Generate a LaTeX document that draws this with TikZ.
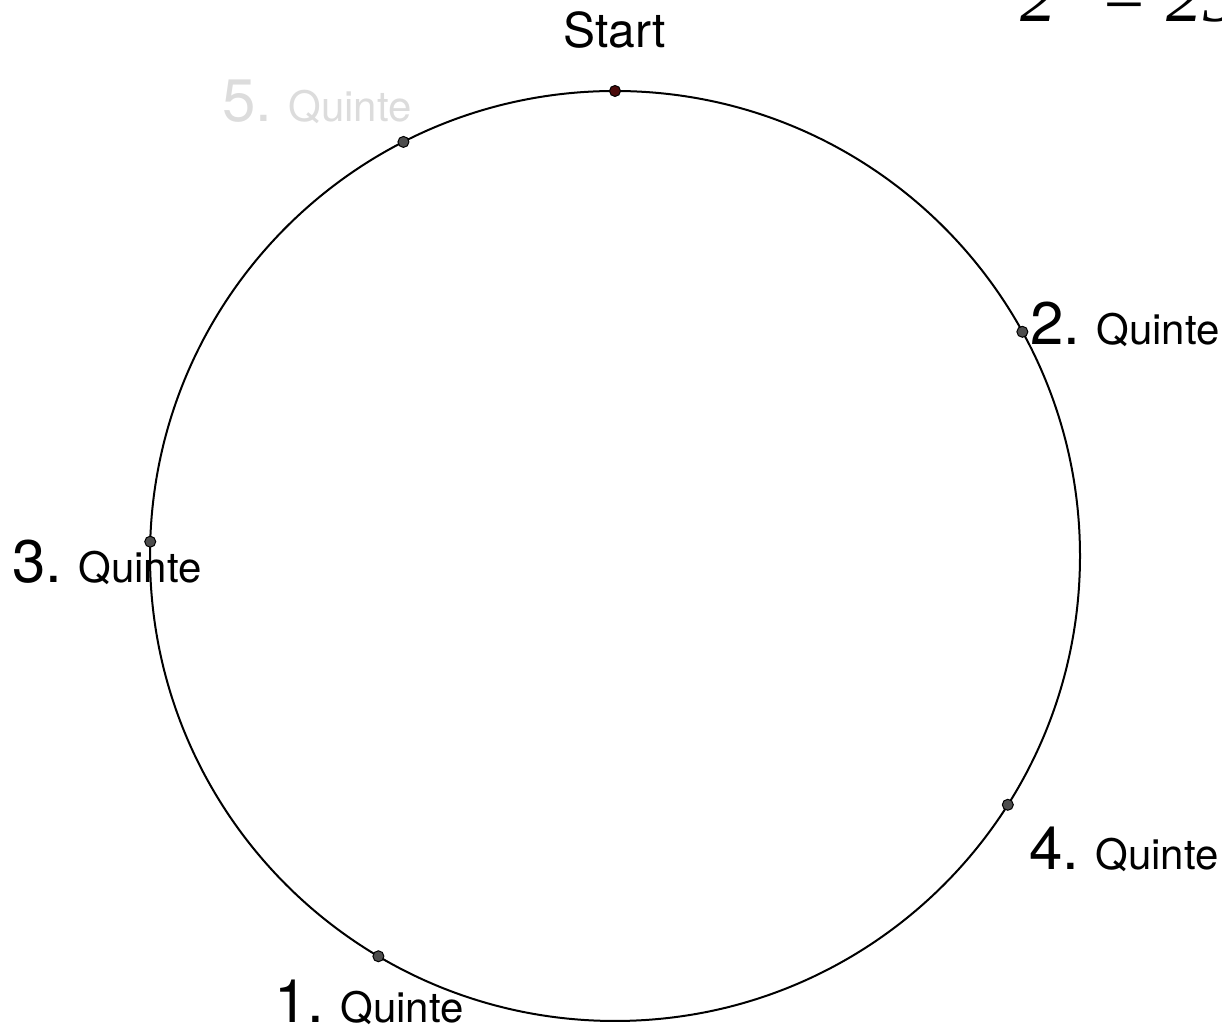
\documentclass[tikz,border=0pt]{standalone}
\usepackage{fontspec}
\setmainfont{TeX Gyre Heros}
\newfontfamily\tms{Liberation Serif}
\usetikzlibrary{calc}
\definecolor{dotgray}{HTML}{4D4D4D}
\definecolor{startred}{HTML}{4A0A0A}
\definecolor{faint}{HTML}{DCDCDC}
\tikzset{
  pt/.style={circle, draw=black, line width=0.5pt, fill=dotgray, inner sep=0pt, minimum size=5.5pt},
  lbl/.style={anchor=base west, inner sep=0pt, font=\fontsize{30}{30}\selectfont},
}
\newcommand{\qlab}[1]{#1.\hspace{8pt}{\fontsize{21}{21}\selectfont Quinte}}
\begin{document}
\begin{tikzpicture}[x=0.5pt, y=0.5pt]
\clip (0,0) rectangle (1222,1032);
\useasboundingbox (0,0) rectangle (1222,1032);
\coordinate (c) at (615,476);
\draw[line width=1pt] (c) circle[radius=465];
\coordinate (q0) at ($(c)+(90:465)$);
\coordinate (q1) at ($(c)+(-120.587:465)$);
\coordinate (q2) at ($(c)+(28.826:465)$);
\coordinate (q3) at ($(c)+(178.239:465)$);
\coordinate (q4) at ($(c)+(-32.348:465)$);
\coordinate (q5) at ($(c)+(117.065:465)$);
\node[pt, fill=startred] (p0) at (q0) {};
\node[pt] (p1) at (q1) {};
\node[pt] (p2) at (q2) {};
\node[pt] (p3) at (q3) {};
\node[pt] (p4) at (q4) {};
\node[pt] (p5) at (q5) {};
\node[anchor=base, inner sep=0pt, font=\fontsize{24}{24}\selectfont] (s) at (615,984) {Start};
\node[lbl, text=faint] (l5) at (222,910) {\qlab{5}};
\node[lbl] (l2) at (1030,687) {\qlab{2}};
\node[lbl] (l3) at (12,449) {\qlab{3}};
\node[lbl] (l4) at (1029,162) {\qlab{4}};
\node[lbl] (l1) at (274,9) {\qlab{1}};
\node[anchor=base west, inner sep=0pt] (f) at (1020,1010) {\tms\itshape\fontsize{36}{36}\selectfont 2\raisebox{0.75em}{\fontsize{25}{25}\selectfont 8} = 256};
\end{tikzpicture}
\end{document}
